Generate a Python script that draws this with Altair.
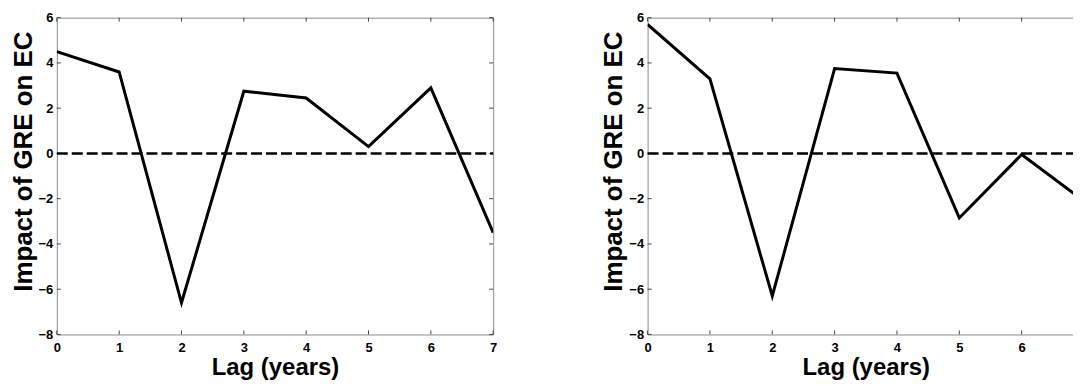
import altair as alt
import pandas as pd

# ---- data ----
lags = [0, 1, 2, 3, 4, 5, 6, 7]
impact_left = [4.5, 3.6, -6.6, 2.75, 2.45, 0.3, 2.9, -3.5]
impact_right = [5.7, 3.3, -6.3, 3.75, 3.55, -2.85, -0.05, -2.1]
x_ticks = [0, 1, 2, 3, 4, 5, 6, 7]
x_labels_right = [0, 1, 2, 3, 4, 5, 6]   # "7" falls outside the visible page on the right panel
y_ticks = [-8, -6, -4, -2, 0, 2, 4, 6]
zero_level = [0]

W, H = 438, 318
FONT = "Liberation Sans"
FRAME = "#8c8c8c"
TICK = "#444444"

xscale = alt.Scale(domain=[0, 7], nice=False, zero=False)
yscale = alt.Scale(domain=[-8, 6], nice=False, zero=False)


def make_xaxis(vals):
    return alt.Axis(values=vals, format="d", title="Lag (years)", grid=False,
                    domain=False, ticks=False, labelFlush=False, labelOverlap=False,
                    labelFont=FONT, labelFontSize=13, labelFontWeight="bold",
                    labelColor="black", labelPadding=7,
                    titleFont=FONT, titleFontSize=24, titleFontWeight="bold",
                    titleColor="black", titlePadding=1)


yaxis = alt.Axis(values=y_ticks, format="d", title="Impact of GRE on EC", grid=False,
                 domain=False, ticks=False, labelFlush=False, labelOverlap=False,
                 labelFont=FONT, labelFontSize=13, labelFontWeight="bold",
                 labelColor="black", labelPadding=4,
                 titleFont=FONT, titleFontSize=26, titleFontWeight="bold",
                 titleColor="black", titlePadding=2, titleY=144)


def panel(values, label_vals):
    df = pd.DataFrame({"lag": lags, "impact": values})
    xt = pd.DataFrame({"lag": x_ticks})
    yt = pd.DataFrame({"impact": y_ticks})
    zl = pd.DataFrame({"impact": zero_level})

    X = alt.X("lag:Q", scale=xscale, axis=make_xaxis(label_vals))
    Y = alt.Y("impact:Q", scale=yscale, axis=yaxis)

    line = alt.Chart(df).mark_line(color="black", strokeWidth=3, clip=True).encode(x=X, y=Y)
    zero = alt.Chart(zl).mark_rule(color="black", strokeWidth=2.6, strokeDash=[11, 4]).encode(
        y=Y, x=alt.value(0), x2=alt.value(W))
    xb = alt.Chart(xt).mark_rule(color=TICK, strokeWidth=1).encode(
        x=X, y=alt.value(H), y2=alt.value(H - 4))
    xtp = alt.Chart(xt).mark_rule(color=TICK, strokeWidth=1).encode(
        x=X, y=alt.value(0), y2=alt.value(4))
    yl = alt.Chart(yt).mark_rule(color=TICK, strokeWidth=1).encode(
        y=Y, x=alt.value(0), x2=alt.value(4))
    yr = alt.Chart(yt).mark_rule(color=TICK, strokeWidth=1).encode(
        y=Y, x=alt.value(W), x2=alt.value(W - 4))
    return alt.layer(line, xb, xtp, yl, yr, zero).properties(width=W, height=H)


chart = alt.hconcat(panel(impact_left, x_ticks), panel(impact_right, x_labels_right),
                    spacing=102).properties(
    padding={"left": 1, "top": 2, "right": -13, "bottom": 0},
    background="white",
).configure_view(stroke=FRAME, strokeWidth=1)

chart.save("out.html", embed_options={"renderer": "svg", "actions": False})
